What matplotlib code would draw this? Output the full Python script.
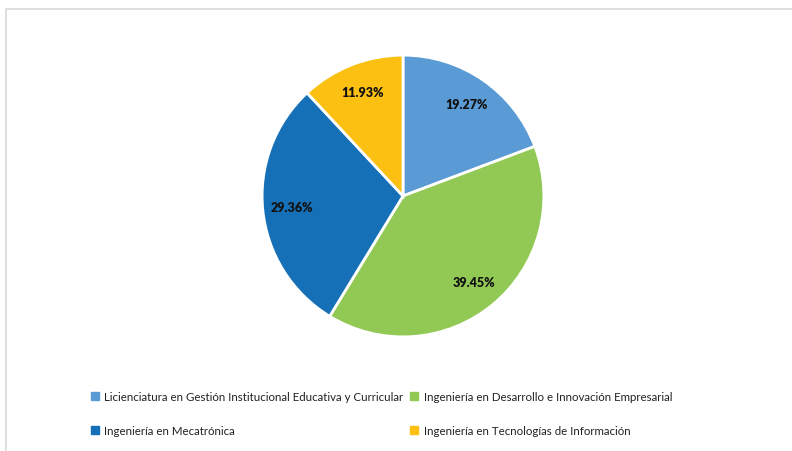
'''Pie chart of enrolment share by programme'''

import matplotlib
matplotlib.use('Agg')
import matplotlib.pyplot as plt
from matplotlib.lines import Line2D
from matplotlib.patches import Rectangle

plt.rcParams['font.family'] = ['Lato', 'DejaVu Sans']

# data (pie order, clockwise from the top)
programs = ['Licienciatura en Gestión Institucional Educativa y Curricular',
            'Ingeniería en Desarrollo e Innovación Empresarial',
            'Ingeniería en Mecatrónica',
            'Ingeniería en Tecnologías de Información']
shares = [19.27, 39.45, 29.36, 11.93]
colors = ['#5B9BD5', '#92C955', '#1570B8', '#FCC012']

# legend reads row by row, matplotlib fills column by column
legend_order = [0, 2, 1, 3]

fig = plt.figure(figsize=(7.92, 4.52), dpi=100)

# light frame, only top and left edges show in the picture
fig.add_artist(Rectangle((6/792, -0.1), 1.2, 1.1 - 10/452,
                         transform=fig.transFigure, fill=False,
                         edgecolor='#d9d9d9', linewidth=1.2))

ax = fig.add_axes([(403 - 143)/792, (452 - 340)/452, 286/792, 286/452])
wedges, texts, autotexts = ax.pie(shares,
                                  colors=colors,
                                  startangle=90,
                                  counterclock=False,
                                  autopct=lambda p: '%.2f%%' % p,
                                  pctdistance=0.79,
                                  wedgeprops=dict(edgecolor='white', linewidth=2),
                                  textprops=dict(fontsize=9, fontweight='heavy',
                                                 color='#111111'))
ax.set_xlim(-1.015, 1.015)
ax.set_ylim(-1.015, 1.015)
ax.set_aspect('equal')

handles = [Line2D([], [], marker='s', linestyle='', markersize=6,
                  color=colors[i]) for i in legend_order]
labels = [programs[i] for i in legend_order]
fig.legend(handles, labels,
           loc='upper left',
           bbox_to_anchor=(90/792, 1 - 392/452),
           ncol=2,
           frameon=False,
           fontsize=8.3,
           borderpad=0,
           borderaxespad=0,
           handlelength=0.8,
           handletextpad=0.45,
           labelspacing=2.0,
           columnspacing=0.5,
           labelcolor='#222222')

fig.savefig('out.png', dpi=100)
